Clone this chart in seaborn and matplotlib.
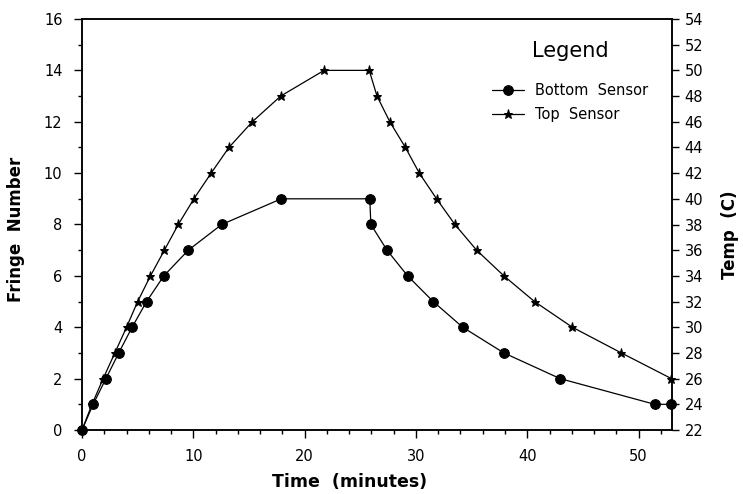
import matplotlib
matplotlib.use("Agg")
import matplotlib.pyplot as plt
import seaborn as sns
import pandas as pd
from matplotlib.ticker import MultipleLocator

# values: time in minutes vs fringe number
bottom_time = [0, 1.0, 2.15, 3.3, 4.5, 5.8, 7.35, 9.55, 12.55, 17.9,
               25.85, 25.95, 27.4, 29.25, 31.55, 34.2, 37.9, 42.95, 51.45, 52.95]
bottom_fringe = [0, 1, 2, 3, 4, 5, 6, 7, 8, 9,
                 9, 8, 7, 6, 5, 4, 3, 2, 1, 1]

top_time = [0, 0.9, 1.9, 2.95, 4.0, 5.0, 6.15, 7.4, 8.65, 10.05, 11.6, 13.2, 15.3, 17.85, 21.75,
            25.8, 26.5, 27.65, 29.05, 30.3, 31.85, 33.5, 35.45, 37.9, 40.65, 44.05, 48.45, 52.95]
top_fringe = [0, 1, 2, 3, 4, 5, 6, 7, 8, 9, 10, 11, 12, 13, 14,
              14, 13, 12, 11, 10, 9, 8, 7, 6, 5, 4, 3, 2]

x_ticks = [0, 10, 20, 30, 40, 50]
y_ticks = list(range(0, 17, 2))
temp_ticks = list(range(22, 55, 2))

df_bottom = pd.DataFrame({"time": bottom_time, "fringe": bottom_fringe})
df_top = pd.DataFrame({"time": top_time, "fringe": top_fringe})

sns.set_style("ticks")
plt.rcParams['font.family'] = ['DejaVu Sans']
plt.rcParams.update({"text.color": "black", "axes.labelcolor": "black",
                     "xtick.color": "black", "ytick.color": "black",
                     "axes.edgecolor": "black"})

fig = plt.figure(figsize=(7.43, 4.94), dpi=100)
ax = fig.add_axes([82 / 743, 1 - 430 / 494, 590 / 743, 411 / 494])

sns.lineplot(data=df_bottom, x="time", y="fringe", ax=ax, sort=False, estimator=None,
             color="black", lw=0.9, marker="o", markersize=7, mec="black",
             label="Bottom  Sensor", clip_on=False)
sns.lineplot(data=df_top, x="time", y="fringe", ax=ax, sort=False, estimator=None,
             color="black", lw=0.9, marker="*", markersize=6.5, mec="black",
             label="Top  Sensor", clip_on=False)

ax.set_xlim(0, 53)
ax.set_ylim(0, 16)
ax.set_xticks(x_ticks)
ax.set_yticks(y_ticks)
ax.xaxis.set_minor_locator(MultipleLocator(2))
ax.yaxis.set_minor_locator(MultipleLocator(1))
ax.tick_params(axis="both", which="major", direction="out", length=6, width=1, labelsize=10.5, pad=8)
ax.tick_params(axis="both", which="minor", direction="out", length=3, width=1)
for s in ax.spines.values():
    s.set_linewidth(1.1)

ax.set_xlabel("Time  (minutes)", fontsize=12.5, fontweight="bold")
ax.set_ylabel("Fringe  Number", fontsize=12, fontweight="bold")
ax.xaxis.set_label_coords(0.453, -0.105)
ax.yaxis.set_label_coords(-0.097, 0.487)

ax2 = ax.twinx()
ax2.set_ylim(22, 54)
ax2.set_yticks(temp_ticks)
ax2.tick_params(axis="y", direction="out", length=5, width=1, labelsize=10.5, pad=4)
for s in ax2.spines.values():
    s.set_linewidth(1.1)
ax2.set_ylabel("Temp  (C)", fontsize=12, fontweight="bold")
ax2.yaxis.set_label_coords(1.083, 0.475)

leg = ax.legend(title="Legend", frameon=False, loc="upper left",
                bbox_to_anchor=(0.672, 0.978), fontsize=10.5, title_fontsize=15,
                handlelength=2.2, labelspacing=0.6, handletextpad=0.8)
leg._legend_box.sep = 16

fig.savefig("out.png", dpi=100)
